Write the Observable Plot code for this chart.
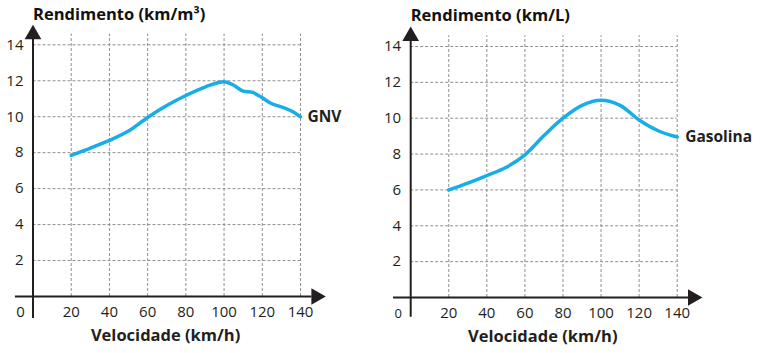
<!DOCTYPE html>
<html>
<head>
<meta charset="utf-8">
<script src="https://cdn.jsdelivr.net/npm/d3@7"></script>
<script src="https://cdn.jsdelivr.net/npm/@observablehq/plot@0.6"></script>
<style>
  html, body { margin: 0; padding: 0; background: #fff; }
  #wrap { position: relative; width: 760px; height: 353px; overflow: hidden; background: #fff; }
  #wrap svg { position: absolute; top: 0; }
</style>
</head>
<body>
<div id="wrap"></div>
<script>
// ---- data ----
const xTicks = [20, 40, 60, 80, 100, 120, 140];
const yTicks = [2, 4, 6, 8, 10, 12, 14];

const gnvSpeed = [20, 30, 40, 50, 60, 70, 80, 90, 100, 105, 110, 115, 120, 125, 130, 135, 140];
const gnvYield = [7.85, 8.25, 8.68, 9.2, 9.96, 10.62, 11.18, 11.65, 11.95, 11.75, 11.42, 11.35, 11.05, 10.72, 10.55, 10.33, 10.0];

const gasSpeed = [20, 30, 40, 50, 60, 70, 80, 90, 100, 110, 120, 130, 140];
const gasYield = [6.0, 6.38, 6.8, 7.25, 7.96, 9.03, 10.0, 10.72, 11.0, 10.72, 9.9, 9.3, 8.95];

const xTitle = "Velocidade (km/h)";
const leftTitle = "Rendimento (km/m³)";
const rightTitle = "Rendimento (km/L)";
const leftSeries = "GNV";
const rightSeries = "Gasolina";

const FONT = "'Open Sans', 'DejaVu Sans', sans-serif";
const INK = "#231f20";
const GRID = "#8f8f8f";
const BLUE = "#17aee8";

function panel(opts) {
  const data = opts.xs.map((x, i) => ({x, y: opts.ys[i]}));
  const last = data[data.length - 1];
  return Plot.plot({
    width: 380,
    height: 353,
    marginLeft: opts.mL,
    marginRight: opts.mR,
    marginTop: opts.mT,
    marginBottom: opts.mB,
    x: {domain: [0, 140], axis: null},
    y: {domain: [0, 14], axis: null},
    style: {fontFamily: FONT, background: "white", overflow: "visible"},
    marks: [
      // grid
      Plot.ruleY(yTicks, {y: d => d, x1: 0, x2: 140, stroke: GRID, strokeWidth: 1, strokeDasharray: "3,2"}),
      Plot.ruleX(xTicks, {x: d => d, y1: 0, y2: 14.6, stroke: GRID, strokeWidth: 1, strokeDasharray: "3,2"}),
      // axes
      Plot.ruleY([0], {x1: opts.xAxisStart, x2: 146, stroke: INK, strokeWidth: 2}),
      Plot.ruleX([0], {y1: opts.yAxisStart, y2: 14.3, stroke: INK, strokeWidth: 2}),
      Plot.dot([0], {x: 148.2, y: 0, symbol: "triangle", r: 6.2, fill: INK, stroke: null, rotate: 90}),
      Plot.dot([0], {x: 0, y: 14.58, symbol: "triangle", r: 6.2, fill: INK, stroke: null}),
      // tick labels
      Plot.text(yTicks, {x: 0, y: d => d, text: d => String(d), dx: -9.5, textAnchor: "end", fontSize: 15, fill: INK}),
      Plot.text(xTicks, {x: d => d, y: 0, text: d => String(d), dy: 16, fontSize: 15, fill: INK}),
      Plot.text([0], {x: 0, y: 0, text: d => String(d), dx: -12.5, dy: 16, fontSize: opts.zeroSize, fill: INK}),
      // curve
      Plot.line(data, {x: "x", y: "y", curve: "catmull-rom", stroke: BLUE, strokeWidth: 3.5, strokeLinecap: "round"}),
      // labels
      Plot.text([opts.series], {x: last.x, y: last.y, text: d => d, dx: opts.seriesDx, dy: opts.seriesDy, textAnchor: "start", fontSize: 15.5, fontWeight: "bold", fill: INK}),
      Plot.text([opts.title], {x: 0, y: 14, text: d => d, dx: 0, dy: opts.titleDy, textAnchor: "start", fontSize: 16.5, fontWeight: "bold", fill: "#111"}),
      Plot.text([xTitle], {x: 69.4, y: 0, text: d => d, dy: 39, fontSize: 16.5, fontWeight: "bold", fill: INK})
    ]
  });
}

const left = panel({
  xs: gnvSpeed, ys: gnvYield, mL: 32.5, mR: 80, mT: 44.3, mB: 57,
  xAxisStart: -9.2, yAxisStart: -1.22, zeroSize: 15,
  series: leftSeries, seriesDx: 7, seriesDy: 0,
  title: leftTitle, titleDy: -30
});
const right = panel({
  xs: gasSpeed, ys: gasYield, mL: 30.2, mR: 83.3, mT: 46, mB: 56,
  xAxisStart: -9, yAxisStart: -1.1, zeroSize: 13,
  series: rightSeries, seriesDx: 8, seriesDy: 0,
  title: rightTitle, titleDy: -31
});
left.style.left = "0px";
right.style.left = "380px";
document.getElementById("wrap").append(left, right);
</script>
</body>
</html>
